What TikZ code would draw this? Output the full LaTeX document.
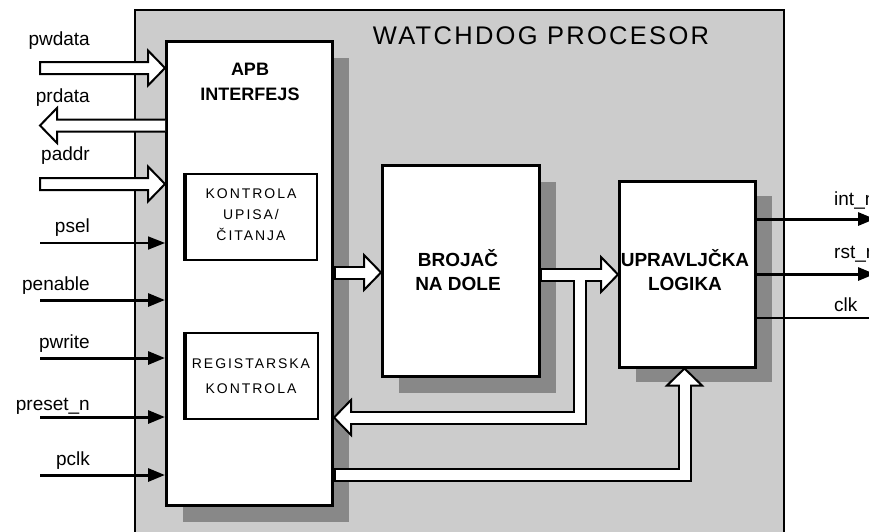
\documentclass[tikz,border=0pt]{standalone}
\usepackage{fontspec}
\setmainfont{Liberation Sans}
\newfontfamily\widefont[LetterSpace=14]{Liberation Sans}
\newfontfamily\titlefont[LetterSpace=9]{Liberation Sans}
\usetikzlibrary{arrows.meta,calc}
\definecolor{bgrey}{RGB}{204,204,204}
\definecolor{sgrey}{RGB}{136,136,136}
\newcommand\headR[1]{\draw[headst] (#1) -- ++(-17,-17.5) -- ++(0,35) -- cycle;}
\newcommand\headL[1]{\draw[headst] (#1) -- ++(17,-17.5) -- ++(0,35) -- cycle;}
\newcommand\headU[1]{\draw[headst] (#1) -- ++(-17.5,17) -- ++(35,0) -- cycle;}
\begin{document}
\begin{tikzpicture}[x=1pt,y=-1pt,line join=miter,
  box/.style={draw=black,fill=white,line width=2.5pt,anchor=north west,inner sep=0pt},
  shadowbox/.style={fill=sgrey,draw=none,anchor=north west,inner sep=0pt},
  outerbox/.style={draw=black,fill=bgrey,line width=2pt,anchor=north west,inner sep=0pt},
  lbl/.style={font=\fontsize{19}{22}\selectfont,inner sep=0pt},
  boldtxt/.style={font=\fontsize{19}{24}\selectfont\bfseries,align=center,inner sep=0pt},
  widetxt/.style={font=\widefont\fontsize{14}{21}\selectfont,align=center,inner sep=0pt},
  sig/.style={line width=3pt,-{Triangle[length=17pt,width=13pt]}},
  thinsig/.style={line width=1.8pt,-{Triangle[length=17pt,width=13pt]}},
  busK/.style={line width=14pt,black},
  busW/.style={line width=10pt,white},
  busedge/.style={draw=black,fill=white,line width=2pt},
  headst/.style={draw=black,fill=white,line width=2pt}]
\useasboundingbox (0,0) rectangle (869,531);
\clip (0,0) rectangle (869,531);
\fill[white] (0,0) rectangle (869,531);
% outer block
\node[outerbox,minimum width=649pt,minimum height=600pt] (wd) at (134,9) {};
\node[font=\titlefont\fontsize{25.5}{28}\selectfont,inner sep=0pt] (title) at (541,36) {WATCHDOG PROCESOR};
% shadows
\node[shadowbox,minimum width=166pt,minimum height=464pt] (apbsh) at (183,58) {};
\node[shadowbox,minimum width=157pt,minimum height=211pt] (brsh) at (399,182) {};
\node[shadowbox,minimum width=136pt,minimum height=186pt] (upsh) at (636,196) {};
% boxes
\node[box,line width=3pt,minimum width=166pt,minimum height=464pt] (apb) at (165,40) {};
\node[boldtxt,font=\fontsize{18}{25}\selectfont\bfseries] (apbt) at (250,82) {APB\\INTERFEJS};
\node[box,line width=2.2pt,minimum width=131pt,minimum height=86pt] (kon) at (185,173) {};
\draw[line width=4pt] (kon.north west) -- (kon.south west);
\node[widetxt] (kont) at (251,215) {KONTROLA\\UPISA/\\ČITANJA};
\node[box,line width=2.2pt,minimum width=132pt,minimum height=86pt] (reg) at (185,332) {};
\draw[line width=4pt] (reg.north west) -- (reg.south west);
\node[widetxt,font=\widefont\fontsize{14}{25}\selectfont] (regt) at (251,376) {REGISTARSKA\\KONTROLA};
\node[box,minimum width=157pt,minimum height=211pt] (brojac) at (381,164) {};
\node[boldtxt] (brt) at (458,270) {BROJAČ\\NA DOLE};
\node[box,minimum width=136pt,minimum height=186pt] (upr) at (618,180) {};
\node[boldtxt] (upt) at (685,270) {UPRAVLJČKA\\LOGIKA};
% left bus inputs
\coordinate (pwL) at (40,68);
\coordinate (pwT) at (apb.west |- pwL);
\draw[busedge] ($(pwL)+(0,-6)$) -- ($(pwT)+(-17,-6)$) -- ($(pwT)+(-17,-17.5)$) -- (pwT) -- ($(pwT)+(-17,17.5)$) -- ($(pwT)+(-17,6)$) -- ($(pwL)+(0,6)$) -- cycle;
\coordinate (prL) at (40,125.5);
\coordinate (prT) at (apb.west |- prL);
\draw[busedge] ($(prT)+(0,-6)$) -- ($(prL)+(17,-6)$) -- ($(prL)+(17,-17.5)$) -- (prL) -- ($(prL)+(17,17.5)$) -- ($(prL)+(17,6)$) -- ($(prT)+(0,6)$);
\coordinate (paL) at (40,184);
\coordinate (paT) at (apb.west |- paL);
\draw[busedge] ($(paL)+(0,-6)$) -- ($(paT)+(-17,-6)$) -- ($(paT)+(-17,-17.5)$) -- (paT) -- ($(paT)+(-17,17.5)$) -- ($(paT)+(-17,6)$) -- ($(paL)+(0,6)$) -- cycle;
% left signal inputs
\coordinate (pselL) at (40,243);
\coordinate (penL) at (40,300);
\coordinate (pwrL) at (40,358);
\coordinate (presL) at (40,417);
\coordinate (pclkL) at (40,475);
\draw[thinsig] (pselL) -- (apb.west |- pselL);
\draw[sig] (penL) -- (apb.west |- penL);
\draw[sig] (pwrL) -- (apb.west |- pwrL);
\draw[sig] (presL) -- (apb.west |- presL);
\draw[sig] (pclkL) -- (apb.west |- pclkL);
% left labels
\node[lbl,anchor=base east] (lpw) at (90,45) {pwdata};
\node[lbl,anchor=base east] (lpr) at (90,102) {prdata};
\node[lbl,anchor=base east] (lpa) at (90,160) {paddr};
\node[lbl,anchor=base east] (lps) at (90,232) {psel};
\node[lbl,anchor=base east] (lpe) at (90,290) {penable};
\node[lbl,anchor=base east] (lpwr) at (90,348) {pwrite};
\node[lbl,anchor=base east] (lpre) at (90,410) {preset\_n};
\node[lbl,anchor=base east] (lpc) at (90,465) {pclk};
% internal buses: black shafts
\draw[busK] (apb.east |- 0,272.5) -- ($(brojac.west |- 0,272.5)+(-17,0)$);
\draw[busK] (brojac.east |- 0,274.5) -- ($(upr.west |- 0,274.5)+(-17,0)$);
\draw[busK] (580,274.5) -- (580,417.5) -- ($(apb.east |- 0,417.5)+(17,0)$);
\draw[busK] (apb.east |- 0,475) -- (684.5,475) -- ($(684.5,0 |- upr.south)+(0,17)$);
% heads
\headR{brojac.west |- 0,272.5}
\headR{upr.west |- 0,274.5}
\headL{apb.east |- 0,417.5}
\headU{684.5,0 |- upr.south}
% white shafts
\draw[busW] ($(apb.east |- 0,272.5)+(1.5,0)$) -- ($(brojac.west |- 0,272.5)+(-15.5,0)$);
\draw[busW] ($(brojac.east |- 0,274.5)+(1.5,0)$) -- ($(upr.west |- 0,274.5)+(-15.5,0)$);
\draw[busW] (580,274.5) -- (580,417.5) -- ($(apb.east |- 0,417.5)+(15.5,0)$);
\draw[busW] ($(apb.east |- 0,475)+(1.5,0)$) -- (684.5,475) -- ($(684.5,0 |- upr.south)+(0,15.5)$);
% outputs
\coordinate (intE) at (875,219);
\coordinate (rstE) at (875,274);
\coordinate (clkE) at (875,318);
\draw[sig] (upr.east |- intE) -- (intE);
\draw[sig] (upr.east |- rstE) -- (rstE);
\draw[line width=1.5pt] (upr.east |- clkE) -- (clkE);
\node[lbl,anchor=base west] (lint) at (834,205) {int\_n};
\node[lbl,anchor=base west] (lrst) at (834,258) {rst\_n};
\node[lbl,anchor=base west] (lclk) at (834,311) {clk};
\end{tikzpicture}
\end{document}
